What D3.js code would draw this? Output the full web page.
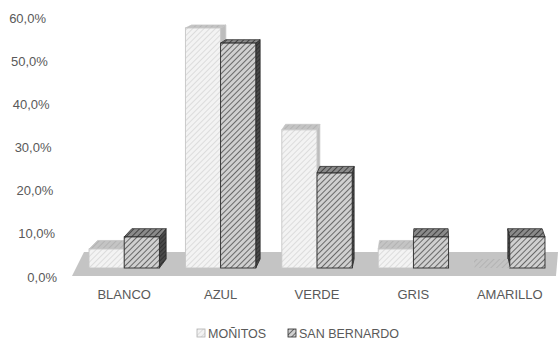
<!DOCTYPE html>
<html><head><meta charset="utf-8">
<script src="https://cdn.jsdelivr.net/npm/d3@7"></script>
<style>body{margin:0;background:#fff}</style>
</head><body><svg id="c" width="558" height="345"></svg>
<script>
const categories = ["BLANCO","AZUL","VERDE","GRIS","AMARILLO"];
const seriesNames = ["MOÑITOS","SAN BERNARDO"];
const monitos = [4.4, 55.6, 32.0, 4.4, 0];
const sanBernardo = [7.2, 52.1, 22.0, 7.2, 7.2];
const yTicks = [0,10,20,30,40,50,60];
const yTickLabels = ["0,0%","10,0%","20,0%","30,0%","40,0%","50,0%","60,0%"];

const svg = d3.select("#c");
const font = "'Liberation Sans', Arial, sans-serif";
const textCol = "#595959";

const y = d3.scaleLinear().domain([0,60]).range([277,18]);
const yLabelX = d3.scaleLinear().domain([0,60]).range([57,46]);
const x0 = d3.scaleBand().domain(categories).range([76,558]).paddingInner(0.27).paddingOuter(0.135);
const x1 = d3.scaleBand().domain(seriesNames).range([0, x0.bandwidth()]);

const VP = [430,-92], T = 0.025, setback = 9;
const back = p => [p[0] + (VP[0]-p[0])*T, p[1] + (VP[1]-p[1])*T];

// patterns
const defs = svg.append("defs");
function hatch(id, bg, line, w, size){
  const p = defs.append("pattern").attr("id",id).attr("patternUnits","userSpaceOnUse")
    .attr("width",size).attr("height",size).attr("patternTransform","rotate(45)");
  p.append("rect").attr("width",size).attr("height",size).attr("fill",bg);
  p.append("line").attr("x1",0).attr("y1",0).attr("x2",0).attr("y2",size)
    .attr("stroke",line).attr("stroke-width",w);
}
hatch("mFront","#f3f3f3","#cdcdcd",1.2,4);
hatch("mTop","#c4c4c4","#a8a8a8",1.2,4);
hatch("sFront","#d0d0d0","#3c3c3c",1.4,4);
hatch("sTop","#8a8a8a","#2e2e2e",1.6,4);
hatch("sSide","#4a4a4a","#222",1.2,3);

const styles = {
  "MOÑITOS": {front:"url(#mFront)", top:"url(#mTop)", side:"#bdbdbd", stroke:"#c6c6c6"},
  "SAN BERNARDO": {front:"url(#sFront)", top:"url(#sTop)", side:"url(#sSide)", stroke:"#2a2a2a"}
};

// floor
const r = x0.range();
const floorPts = [[r[0]-4,y(0)-1],[r[0]+8,y(0)-25],[r[1],y(0)-25],[r[1]-2,y(0)-1]];
svg.append("polygon").attr("points",floorPts.map(p=>p.join(",")).join(" ")).attr("fill","#c4c4c4");

// y axis labels
svg.append("g").selectAll("text").data(yTicks).join("text")
  .attr("x",d=>yLabelX(d)).attr("y",d=>y(d)).attr("dy","0.35em")
  .attr("text-anchor","end").attr("font-family",font).attr("font-size",13)
  .attr("fill",textCol).text((d,i)=>yTickLabels[i]);

// bars
const g = svg.append("g");
function drawBar(cat, s, v){
  const st = styles[s];
  const xa = x0(cat)+x1(s), xb = xa + x1.bandwidth();
  const yb = y(0)-setback, yt = y(v)-setback;
  const fl=[xa,yt], fr=[xb,yt], bl=back(fl), br=back(fr);
  const poly = pts => pts.map(p=>p.join(",")).join(" ");
  // side face
  if (br[0] > xb) {
    g.append("polygon").attr("points",poly([[xb,yt],br,back([xb,yb]),[xb,yb]]))
      .attr("fill",st.side).attr("stroke",st.stroke).attr("stroke-width",0.8);
  } else if (bl[0] < xa) {
    g.append("polygon").attr("points",poly([[xa,yt],bl,back([xa,yb]),[xa,yb]]))
      .attr("fill",st.side).attr("stroke",st.stroke).attr("stroke-width",0.8);
  }
  // top face
  g.append("polygon").attr("points",poly([fl,fr,br,bl]))
    .attr("fill",st.top).attr("stroke",v>0?st.stroke:"none").attr("stroke-width",0.8);
  // front face
  if (v>0) g.append("rect").attr("x",xa).attr("y",yt).attr("width",xb-xa).attr("height",yb-yt)
    .attr("fill",st.front).attr("stroke",st.stroke).attr("stroke-width",0.9);
}
categories.forEach((c,i)=>{
  const order = (x0(c)+x0.bandwidth()/2 < VP[0]) ? [0,1] : [1,0];
  order.forEach(k=>{
    if(k===0) drawBar(c, seriesNames[0], monitos[i]);
    else drawBar(c, seriesNames[1], sanBernardo[i]);
  });
});

// category labels
svg.append("g").selectAll("text").data(categories).join("text")
  .attr("x",d=>x0(d)+x0.bandwidth()/2).attr("y",299)
  .attr("text-anchor","middle").attr("font-family",font).attr("font-size",13)
  .attr("fill",textCol).text(d=>d);

// legend
const legX = [197, 288];
const legSw = ["mFront","sFront"];
const legStroke = ["#b0b0b0","#2a2a2a"];
seriesNames.forEach((s,i)=>{
  svg.append("rect").attr("x",legX[i]).attr("y",329).attr("width",8).attr("height",8)
    .attr("fill",`url(#${legSw[i]})`).attr("stroke",legStroke[i]).attr("stroke-width",0.8);
  svg.append("text").attr("x",legX[i]+11).attr("y",338).attr("font-family",font)
    .attr("font-size",12.5).attr("fill",textCol).text(s);
});
</script></body></html>
